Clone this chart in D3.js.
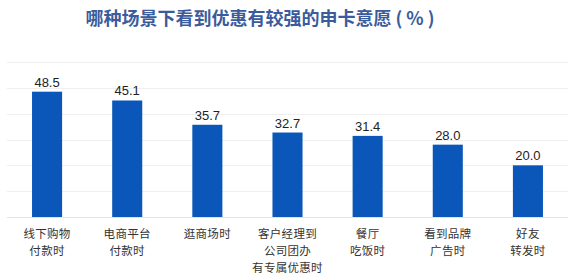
<!DOCTYPE html>
<html>
<head>
<meta charset="utf-8">
<script src="https://cdn.jsdelivr.net/npm/d3@7"></script>
<style>
  body { margin: 0; background: #fff; }
  svg { display: block; font-family: "Noto Sans CJK SC", "Noto Sans", sans-serif; }
</style>
</head>
<body>
<svg id="chart" width="580" height="280"></svg>
<script>
const titleText = '哪种场景下看到优惠有较强的申卡意愿 ( % )';
const categories = [
  ['线下购物', '付款时'],
  ['电商平台', '付款时'],
  ['逛商场时'],
  ['客户经理到', '公司团办', '有专属优惠时'],
  ['餐厅', '吃饭时'],
  ['看到品牌', '广告时'],
  ['好友', '转发时']
];
const values = [48.5, 45.1, 35.7, 32.7, 31.4, 28.0, 20.0];
const gridTicks = [0, 10, 20, 30, 40, 50, 60];

const svg = d3.select('#chart');
const margin = { left: 7, right: 12, top: 62, bottom: 63 };
const width = 580, height = 280;

const x = d3.scaleBand()
  .domain(d3.range(values.length))
  .range([margin.left, width - margin.right])
  .paddingInner(0.625)
  .paddingOuter(0.3125);

const y = d3.scaleLinear()
  .domain([0, 60])
  .range([height - margin.bottom, margin.top]);

// title
svg.append('text')
  .attr('x', 260)
  .attr('y', 25)
  .attr('text-anchor', 'middle')
  .attr('font-size', 18)
  .attr('font-weight', 'bold')
  .attr('fill', '#3b5b9c')
  .text(titleText);

// gridlines
svg.append('g')
  .selectAll('line')
  .data(gridTicks)
  .join('line')
  .attr('x1', margin.left)
  .attr('x2', width - margin.right)
  .attr('y1', d => Math.round(y(d)) + 0.5)
  .attr('y2', d => Math.round(y(d)) + 0.5)
  .attr('stroke', d => d === 0 ? '#e2e2e2' : '#efefef')
  .attr('stroke-width', 1);

// bars
svg.append('g')
  .selectAll('rect')
  .data(values)
  .join('rect')
  .attr('x', (d, i) => x(i))
  .attr('width', x.bandwidth())
  .attr('y', d => y(d))
  .attr('height', d => y(0) - y(d))
  .attr('fill', '#0a56b9');

// value labels
svg.append('g')
  .selectAll('text')
  .data(values)
  .join('text')
  .attr('x', (d, i) => x(i) + x.bandwidth() / 2)
  .attr('y', d => y(d) - 5)
  .attr('text-anchor', 'middle')
  .attr('font-family', 'Arial, "Liberation Sans", sans-serif')
  .attr('font-size', 13)
  .attr('fill', '#222')
  .text(d => d.toFixed(1));

// category labels, one text per line
const lines = categories.flatMap((c, i) => c.map((t, j) => ({ i, j, t })));
svg.append('g')
  .selectAll('text')
  .data(lines)
  .join('text')
  .attr('x', d => x(d.i) + x.bandwidth() / 2)
  .attr('y', d => y(0) + 21 + d.j * 17)
  .attr('text-anchor', 'middle')
  .attr('font-size', 11.5)
  .attr('letter-spacing', 0.3)
  .attr('fill', '#333')
  .text(d => d.t);
</script>
</body>
</html>
